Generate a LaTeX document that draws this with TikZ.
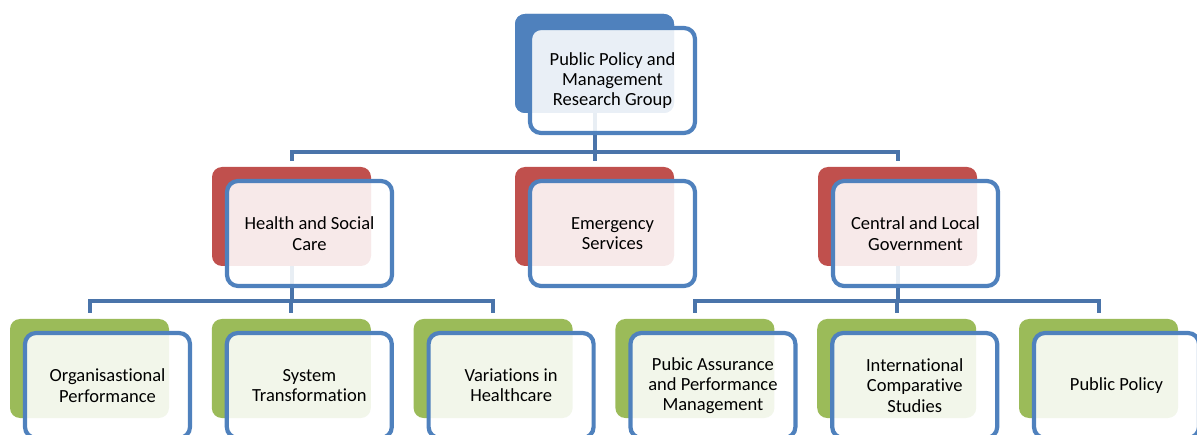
\documentclass[tikz,border=0pt]{standalone}
\usepackage{fontspec}
\setmainfont[Ligatures={NoCommon}]{Carlito}
\usetikzlibrary{calc}
\definecolor{cblue}{HTML}{4F81BD}
\definecolor{cred}{HTML}{C0504D}
\definecolor{cgreen}{HTML}{9BBB59}
\definecolor{cline}{HTML}{4A74AA}
\tikzset{
  backbox/.style={draw=none, rounded corners=10pt, minimum width=159pt, minimum height=99pt, inner sep=0pt},
  frontbox/.style={draw=cblue, line width=4.2pt, fill=white, fill opacity=0.88, text opacity=1, rounded corners=11pt,
    minimum width=165pt, minimum height=105pt, inner sep=0pt, align=center,
    font=\fontsize{18.5}{20.3}\selectfont},
  conn/.style={draw=cline, line width=4pt}
}
\begin{document}
\begin{tikzpicture}[x=1pt,y=1pt]
\useasboundingbox (0,0) rectangle (1197,434);
\clip (0,0) rectangle (1197,434);
\coordinate (bus1) at (0,282);
\coordinate (bus2) at (0,133);
\path (594.5,370.5) coordinate (p0)
      (291.5,217.5) coordinate (p1) (594.5,217.5) coordinate (p2) (897.5,217.5) coordinate (p3)
      (89.5,65.5) coordinate (p4) (291.3,65.5) coordinate (p5) (493.1,65.5) coordinate (p6)
      (694.9,65.5) coordinate (p7) (896.7,65.5) coordinate (p8) (1098.5,65.5) coordinate (p9);
% back boxes
\node[backbox, fill=cblue] (b0) at (p0) {};
\node[backbox, fill=cred] (b1) at (p1) {};
\node[backbox, fill=cred] (b2) at (p2) {};
\node[backbox, fill=cred] (b3) at (p3) {};
\node[backbox, fill=cgreen] (b4) at (p4) {};
\node[backbox, fill=cgreen] (b5) at (p5) {};
\node[backbox, fill=cgreen] (b6) at (p6) {};
\node[backbox, fill=cgreen] (b7) at (p7) {};
\node[backbox, fill=cgreen] (b8) at (p8) {};
\node[backbox, fill=cgreen] (b9) at (p9) {};
% connectors
\draw[conn] (b0.center) -- (b0.center |- bus1);
\draw[conn, line cap=rect] (b1.center |- bus1) -- (b3.center |- bus1);
\draw[conn] (b1.center |- bus1) -- ($(b1.north)+(0,6)$);
\draw[conn] (b2.center |- bus1) -- ($(b2.north)+(0,6)$);
\draw[conn] (b3.center |- bus1) -- ($(b3.north)+(0,6)$);
\draw[conn] (b1.south) -- (b1.center |- bus2);
\draw[conn] (b3.south) -- (b3.center |- bus2);
\draw[conn, line cap=rect] (b4.center |- bus2) -- (b6.center |- bus2);
\draw[conn, line cap=rect] (b7.center |- bus2) -- (b9.center |- bus2);
\foreach \i in {4,...,9} {\draw[conn] (b\i.center |- bus2) -- ($(b\i.north)+(0,6)$);}
% redraw back box over connector start
\node[backbox, fill=cblue] at (p0) {};
% front boxes
\node[frontbox] (f0) at ($(b0.center)+(18,-17)$) {Public Policy and\\Management\\Research Group};
\node[frontbox] (f1) at ($(b1.center)+(18,-17)$) {Health and Social\\Care};
\node[frontbox] (f2) at ($(b2.center)+(18,-17)$) {Emergency\\Services};
\node[frontbox] (f3) at ($(b3.center)+(18,-17)$) {Central and Local\\Government};
\node[frontbox] (f4) at ($(b4.center)+(18,-17)$) {Organisastional\\Performance};
\node[frontbox] (f5) at ($(b5.center)+(18,-17)$) {System\\Transformation};
\node[frontbox] (f6) at ($(b6.center)+(18,-17)$) {Variations in\\Healthcare};
\node[frontbox] (f7) at ($(b7.center)+(18,-17)$) {Pubic Assurance\\and Performance\\Management};
\node[frontbox] (f8) at ($(b8.center)+(18,-17)$) {International\\Comparative\\Studies};
\node[frontbox] (f9) at ($(b9.center)+(18,-17)$) {Public Policy};
\end{tikzpicture}
\end{document}
